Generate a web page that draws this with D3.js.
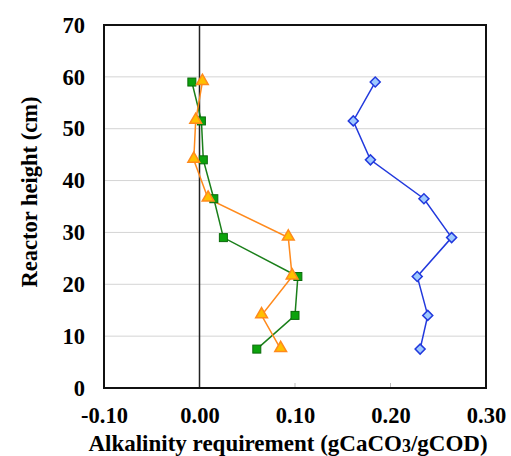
<!DOCTYPE html>
<html>
<head>
<meta charset="utf-8">
<script src="https://cdn.jsdelivr.net/npm/d3@7"></script>
<style>
  body { margin: 0; background: #fff; }
</style>
</head>
<body>
<div id="chart"></div>
<script>
// reactor heights (cm) where samples were taken
var heights = [59, 51.5, 44, 36.5, 29, 21.5, 14, 7.5];

// alkalinity requirement per series (gCaCO3/gCOD)
var greenVals  = [-0.008, 0.002, 0.004, 0.015, 0.025, 0.103, 0.100, 0.060];
var orangeVals = [0.003, -0.004, -0.006, 0.009, 0.093, 0.097, 0.065, 0.085];
var blueVals   = [0.184, 0.161, 0.179, 0.235, 0.264, 0.228, 0.239, 0.231];

var xTicks = [-0.10, 0.00, 0.10, 0.20, 0.30];
var yTicks = [0, 10, 20, 30, 40, 50, 60, 70];

var FONT = "'Liberation Serif', 'Times New Roman', serif";

var W = 511, H = 456;
var margin = {top: 25, right: 25, bottom: 68, left: 104};
var width = W - margin.left - margin.right,
    height = H - margin.top - margin.bottom;

var svg = d3.select("#chart").append("svg")
    .attr("width", W).attr("height", H)
    .attr("font-family", FONT).attr("font-weight", "bold");

var g = svg.append("g")
    .attr("transform", "translate(" + margin.left + "," + margin.top + ")");

var x = d3.scaleLinear().domain([-0.10, 0.30]).range([0, width]);
var y = d3.scaleLinear().domain([0, 70]).range([height, 0]);

// horizontal grid
g.selectAll(".grid")
  .data(yTicks.filter(function(d) { return d > 0 && d < 70; }))
  .enter().append("line")
    .attr("x1", 0).attr("x2", width)
    .attr("y1", function(d) { return y(d); })
    .attr("y2", function(d) { return y(d); })
    .style("stroke", "#d4d4d4").style("stroke-width", 1);

// small ticks on the bottom
g.selectAll(".btick")
  .data([0.10, 0.20])
  .enter().append("line")
    .attr("x1", function(d) { return x(d); }).attr("x2", function(d) { return x(d); })
    .attr("y1", height).attr("y2", height - 5)
    .style("stroke", "#bbb");

// zero line
g.append("line")
  .attr("x1", x(0)).attr("x2", x(0))
  .attr("y1", 0).attr("y2", height)
  .style("stroke", "#222").style("stroke-width", 1.5);

// frame
g.append("rect")
  .attr("width", width).attr("height", height)
  .style("fill", "none").style("stroke", "#111").style("stroke-width", 2);

// tick labels via d3 axes, domain hidden
var fmt = d3.format(".2f");
var xAxis = g.append("g")
  .attr("transform", "translate(0," + height + ")")
  .call(d3.axisBottom(x).tickValues(xTicks).tickSize(0).tickPadding(19)
    .tickFormat(function(d) { return d < 0 ? "-" + fmt(-d) : fmt(d); }));
xAxis.select(".domain").remove();
xAxis.attr("font-family", FONT).attr("font-size", 22.5);
xAxis.selectAll("text").style("fill", "#000").attr("font-weight", "bold");

var yAxis = g.append("g")
  .call(d3.axisLeft(y).tickValues(yTicks).tickSize(0).tickPadding(19));
yAxis.select(".domain").remove();
yAxis.attr("font-family", FONT).attr("font-size", 22.5);
yAxis.selectAll("text").style("fill", "#000").attr("font-weight", "bold");

// axis titles
var xt = svg.append("text")
  .attr("x", 288).attr("y", 451)
  .attr("text-anchor", "middle")
  .attr("font-size", 23);
xt.append("tspan").text("Alkalinity requirement (gCaCO");
xt.append("tspan").text("3").attr("font-size", 18).attr("dy", 1);
xt.append("tspan").text("/gCOD)").attr("dy", -1);

svg.append("text")
  .attr("transform", "translate(37,192) rotate(-90)")
  .attr("text-anchor", "middle")
  .attr("font-size", 22.5)
  .text("Reactor height (cm)");

function series(vals, lineColor) {
  var pts = vals.map(function(v, i) { return [v, heights[i]]; });
  g.append("path")
    .datum(pts)
    .attr("d", d3.line().x(function(d) { return x(d[0]); }).y(function(d) { return y(d[1]); }))
    .style("fill", "none").style("stroke", lineColor).style("stroke-width", 1.5);
  return pts;
}

var gp = series(greenVals, "#1a7f1a");
var op = series(orangeVals, "#ff8a1c");
var bp = series(blueVals, "#2239dd");

// markers
g.selectAll(".sq").data(gp).enter().append("rect")
  .attr("x", function(d) { return x(d[0]) - 4; })
  .attr("y", function(d) { return y(d[1]) - 4; })
  .attr("width", 8).attr("height", 8)
  .style("fill", "#0ca30c").style("stroke", "#0a6a0a").style("stroke-width", 1);

var tri = d3.symbol().type(d3.symbolTriangle).size(60);
g.selectAll(".tri").data(op).enter().append("path")
  .attr("d", tri)
  .attr("transform", function(d) { return "translate(" + x(d[0]) + "," + (y(d[1]) - 1) + ")"; })
  .style("fill", "#ffc000").style("stroke", "#ff8a1c").style("stroke-width", 1.5);

var dia = d3.symbol().type(d3.symbolSquare).size(50);
g.selectAll(".dia").data(bp).enter().append("path")
  .attr("d", dia)
  .attr("transform", function(d) { return "translate(" + x(d[0]) + "," + y(d[1]) + ") rotate(45)"; })
  .style("fill", "#9fcaff").style("stroke", "#2239dd").style("stroke-width", 1.5);
</script>
</body>
</html>
